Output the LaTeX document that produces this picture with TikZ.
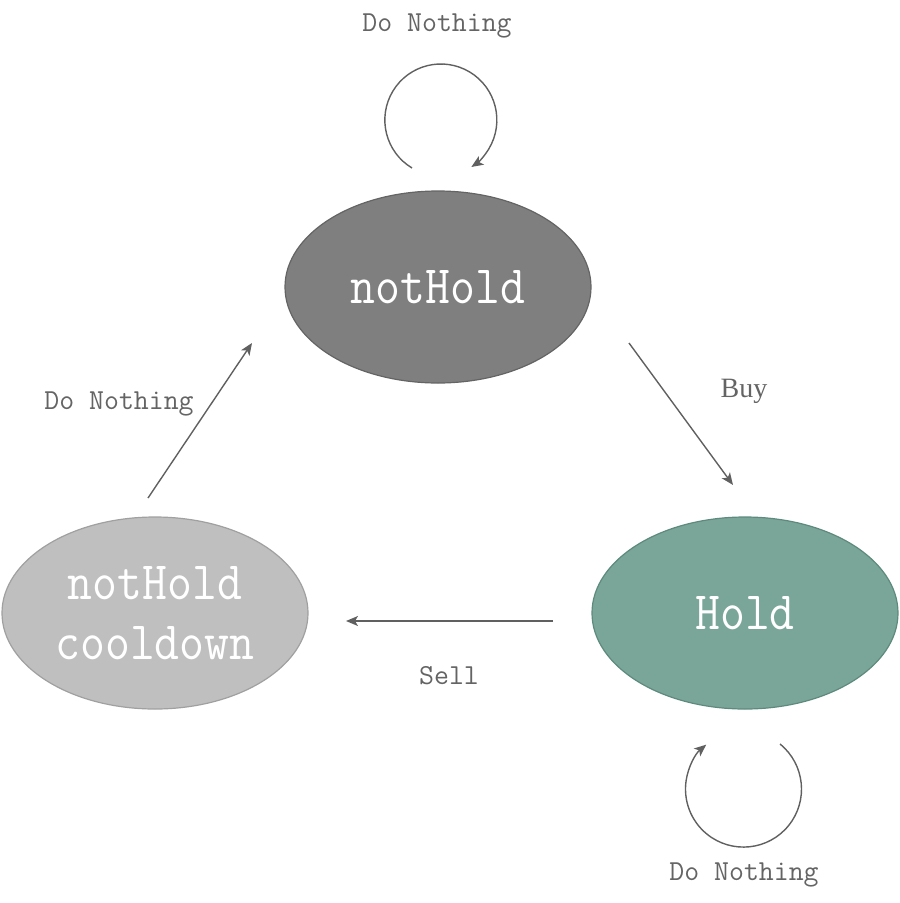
\documentclass[tikz,border=0pt]{standalone}
\usepackage{fontspec}
\usetikzlibrary{shapes.geometric,arrows.meta}
\newfontfamily\monofnt{Latin Modern Mono}
\newfontfamily\bigmonofnt[FakeStretch=0.895]{Latin Modern Mono}
\newfontfamily\seriffnt{Liberation Serif}
\definecolor{nhfill}{RGB}{127,127,127}
\definecolor{nhdraw}{RGB}{100,100,100}
\definecolor{hfill}{RGB}{122,166,154}
\definecolor{hdraw}{RGB}{94,138,126}
\definecolor{cfill}{RGB}{191,191,191}
\definecolor{cdraw}{RGB}{160,160,160}
\definecolor{arrowcol}{RGB}{96,96,96}
\definecolor{labelcol}{RGB}{100,100,100}
\tikzset{
  statenode/.style={ellipse, minimum width=306pt, minimum height=192pt, inner sep=0pt,
    line width=1.2pt, text=white, align=center, font=\bigmonofnt\fontsize{54pt}{60pt}\selectfont},
  conn/.style={draw=arrowcol, line width=1.4pt, -{Stealth[length=12pt,width=10pt,inset=3pt]}},
  lbl/.style={text=labelcol, inner sep=0pt, font=\monofnt\fontsize{29pt}{34pt}\selectfont},
}
\begin{document}
\begin{tikzpicture}[x=1pt,y=-1pt]
\useasboundingbox (0,0) rectangle (900,903);
\node[statenode, fill=nhfill, draw=nhdraw] (nh) at (438,287) {notHold};
\node[statenode, fill=hfill, draw=hdraw] (h) at (745,613) {Hold};
\node[statenode, fill=cfill, draw=cdraw] (cd) at (155,613) {notHold\\cooldown};
% connector end points
\coordinate (buyA) at (629,343);
\coordinate (buyB) at (733,485);
\coordinate (sellA) at (553,621);
\coordinate (sellB) at (346,621);
\coordinate (dnA) at (148,498);
\coordinate (dnB) at (252,343);
\coordinate (loopT) at (412,168);
\coordinate (loopB) at (780,744);
\draw[conn] (buyA) -- (buyB);
\draw[conn] (sellA) -- (sellB);
\draw[conn] (dnA) -- (dnB);
\draw[conn] (loopT) arc[start angle=239, end angle=-57, radius=56pt];
\draw[conn] (loopB) arc[start angle=51, end angle=-230, radius=58pt];
% labels
\node[lbl] (l1) at (437,26) {Do Nothing};
\node[lbl] (l2) at (119,404) {Do Nothing};
\node[lbl] (l3) at (744,875) {Do Nothing};
\node[lbl] (l4) at (449,676) {Sell};
\node[text=labelcol, inner sep=0pt, font=\seriffnt\fontsize{28pt}{32pt}\selectfont] (l5) at (744,391) {Buy};
\end{tikzpicture}
\end{document}
